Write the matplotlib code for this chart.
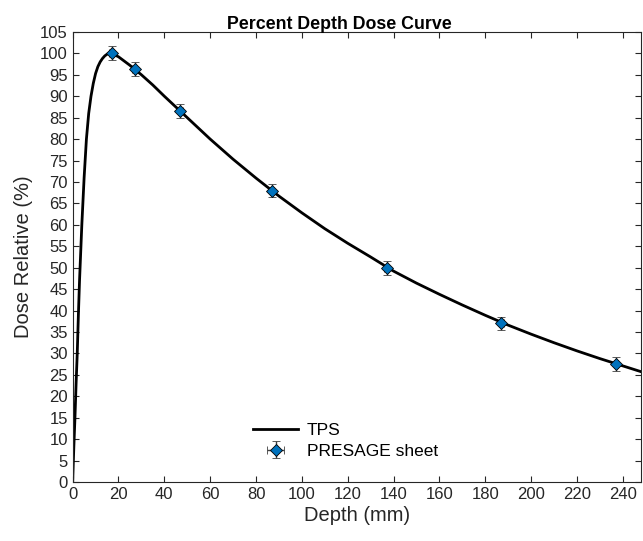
import numpy as np
import matplotlib
matplotlib.use("Agg")
import matplotlib.pyplot as plt

plt.rcParams["font.family"] = ["Liberation Sans", "DejaVu Sans"]

# TPS curve
tps_depth = [0, 0.5, 1, 1.5, 2, 2.5, 3, 4, 5, 6, 7, 8, 9, 10, 11, 12, 13, 14, 15, 16, 17,
             20, 25, 30, 35, 40, 50, 60, 70, 80, 90, 100, 110, 120, 130, 140, 150,
             160, 170, 180, 190, 200, 210, 220, 230, 240, 250]
tps_dose = [0, 8, 15, 23, 30, 39, 47, 60, 71, 80, 86, 90, 93, 95.3, 96.9, 98.0, 98.8,
            99.4, 99.8, 100.0, 100.0,
            99.2, 97.2, 95.0, 92.6, 90.0, 85.0, 80.0, 75.3, 70.9, 66.7, 62.8, 59.1,
            55.7, 52.5, 49.2, 46.4, 43.8, 41.3, 38.9, 36.6, 34.5, 32.5, 30.6, 28.8,
            27.1, 25.4]

# PRESAGE sheet measurements
pres_depth = [17, 27, 47, 87, 137, 187, 237]
pres_dose = [100.0, 96.3, 86.5, 68.0, 50.0, 37.0, 27.5]
pres_xerr = [1, 1, 1, 1, 1, 1, 1]
pres_yerr = [1.6, 1.6, 1.6, 1.6, 1.6, 1.6, 1.6]

fig = plt.figure(figsize=(6.43, 5.41), dpi=100)
ax = fig.add_axes([0.113, 0.109, 0.884, 0.832])

ax.plot(tps_depth, tps_dose, color="black", lw=2, label="TPS", zorder=2)
ax.errorbar(pres_depth, pres_dose, xerr=pres_xerr, yerr=pres_yerr, fmt="D",
            ms=6.5, mfc="#0072BD", mec="black", mew=0.6, ecolor="#404040",
            elinewidth=1, capsize=3, label="PRESAGE sheet", zorder=3)

ax.set_xlim(0, 248)
ax.set_ylim(0, 105)
ax.set_xticks(np.arange(0, 241, 20))
ax.set_yticks(np.arange(0, 106, 5))
ax.tick_params(direction="in", top=True, right=True, labelsize=12,
               colors="#262626", length=4)
for s in ax.spines.values():
    s.set_color("#262626")
    s.set_linewidth(0.8)

ax.set_xlabel("Depth (mm)", fontsize=14.5, color="#262626", labelpad=3)
ax.set_ylabel("Dose Relative (%)", fontsize=14.5, color="#262626", labelpad=5)
ax.set_title("Percent Depth Dose Curve", fontsize=12.8, fontweight="bold",
             pad=2, x=0.47)

leg = ax.legend(loc="lower center", bbox_to_anchor=(0.48, 0.025), frameon=False,
                fontsize=12.5, handlelength=2.6, labelspacing=0.3,
                borderpad=0.2, handletextpad=0.5)

fig.savefig("out.png", dpi=100)
